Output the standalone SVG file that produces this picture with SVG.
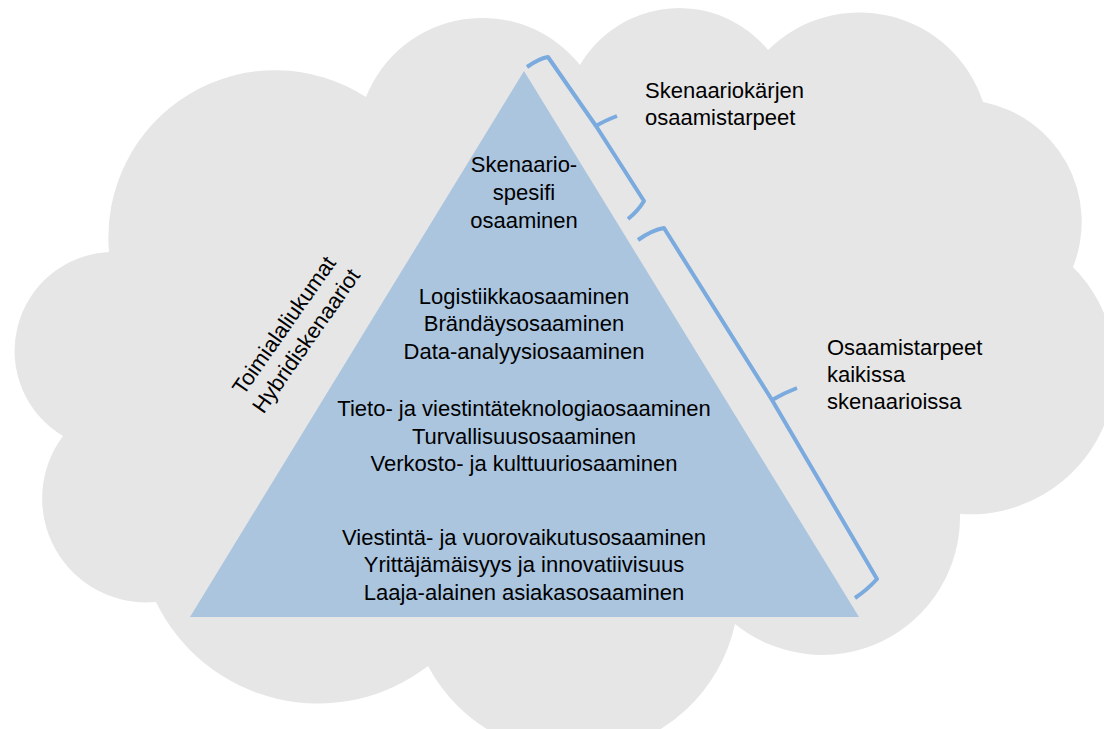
<svg xmlns="http://www.w3.org/2000/svg" width="1104" height="729" viewBox="0 0 1104 729">
<style>
.t{font-family:"Liberation Sans",Arial,sans-serif;font-size:22px;fill:#000}
.c{text-anchor:middle}
.br{fill:none;stroke:#7aaade;stroke-width:4;stroke-linejoin:round;stroke-linecap:butt}
</style>
<rect width="1104" height="729" fill="#ffffff"/>
<g id="cloud">
<path fill="#e6e6e6" d="M109,252 A167,167 0 0 1 366,97 A125,125 0 0 1 580,65 A115,115 0 0 1 768,50 A130,130 0 0 1 983,102 A122,122 0 0 1 1073,267 A145,145 0 0 1 960,514 A138,138 0 0 1 735,624 A165,165 0 0 1 428,666 A180,180 0 0 1 156,602 A104,104 0 0 1 63,436 A99,99 0 0 1 109,252 Z"/>
</g>
<g id="pyramid">
<polygon points="524,71 190,617 859,617" fill="#abc5df"/>
<text class="t c" x="524" y="172">Skenaario-</text>
<text class="t c" x="524" y="200">spesifi</text>
<text class="t c" x="524" y="228">osaaminen</text>
<text class="t c" x="524" y="304">Logistiikkaosaaminen</text>
<text class="t c" x="524" y="331">Brändäysosaaminen</text>
<text class="t c" x="524" y="359">Data-analyysiosaaminen</text>
<text class="t c" x="524" y="416">Tieto- ja viestintäteknologiaosaaminen</text>
<text class="t c" x="524" y="444">Turvallisuusosaaminen</text>
<text class="t c" x="524" y="471">Verkosto- ja kulttuuriosaaminen</text>
<text class="t c" x="524" y="545">Viestintä- ja vuorovaikutusosaaminen</text>
<text class="t c" x="524" y="572">Yrittäjämäisyys ja innovatiivisuus</text>
<text class="t c" x="524" y="600">Laaja-alainen asiakasosaaminen</text>
</g>
<g id="side-label" transform="translate(295,333) rotate(-55)">
<text class="t c" x="0" y="-6">Toimialaliukumat</text>
<text class="t c" x="0" y="21">Hybridiskenaariot</text>
</g>
<g id="connectors">
<path class="br" d="M527,67 Q540,58 548,57 L596,126 Q604,121 617,116 M596,126 L644,201 Q638,211 628,219"/>
<path class="br" d="M638,240 Q652,230 664,228 L772,400 Q784,393 797,388 M772,400 L877,579 Q867,590 855,598"/>
</g>
<g id="label-top">
<text class="t" x="645" y="98">Skenaariokärjen</text>
<text class="t" x="645" y="125">osaamistarpeet</text>
</g>
<g id="label-bottom">
<text class="t" x="827" y="355">Osaamistarpeet</text>
<text class="t" x="827" y="382">kaikissa</text>
<text class="t" x="827" y="409">skenaarioissa</text>
</g>
</svg>
